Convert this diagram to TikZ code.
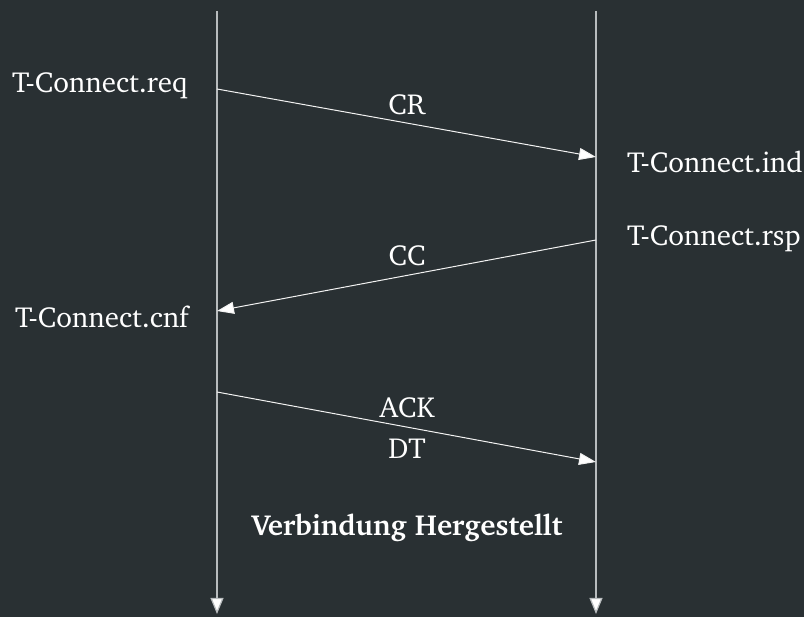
\documentclass[tikz,border=0pt]{standalone}
\usepackage[T1]{fontenc}
\usepackage{charter}
\usetikzlibrary{arrows.meta}
\definecolor{bg}{HTML}{293033}
\definecolor{lifeline}{HTML}{B8BCBE}
\definecolor{msg}{HTML}{F2F2F2}
\begin{document}
\begin{tikzpicture}[x=1pt,y=-1pt,
  txt/.style={text=white,font=\fontsize{29}{34}\selectfont,inner sep=0pt},
  lline/.style={draw=lifeline,line width=1.2pt,-{Triangle[length=16pt,width=13pt,fill=white]}},
  msgline/.style={draw=msg,line width=1pt,-{Triangle[length=17pt,width=12pt,fill=white]}}]
\fill[bg] (0,0) rectangle (804,617);
\useasboundingbox (0,0) rectangle (804,617);
% lifelines
\coordinate (atop) at (217,11);
\coordinate (abot) at (217,614);
\coordinate (btop) at (596,11);
\coordinate (bbot) at (596,614);
\draw[lline] (atop) -- (abot);
\draw[lline] (btop) -- (bbot);
% message endpoints
\coordinate (cr1) at (217,89);
\coordinate (cr2) at (596,157);
\coordinate (cc1) at (596,240);
\coordinate (cc2) at (217,311);
\coordinate (dt1) at (217,392);
\coordinate (dt2) at (596,462);
\draw[msgline] (cr1) -- (cr2);
\draw[msgline] (cc1) -- (cc2);
\draw[msgline] (dt1) -- (dt2);
% labels
\node[txt,anchor=base west] (req) at (12,93) {T-Connect.req};
\node[txt,anchor=base west] (ind) at (627,173) {T-Connect.ind};
\node[txt,anchor=base west] (rsp) at (627,246) {T-Connect.rsp};
\node[txt,anchor=base west] (cnf) at (15,328) {T-Connect.cnf};
\node[txt,anchor=base] (crl) at (407,115) {CR};
\node[txt,anchor=base] (ccl) at (407,266) {CC};
\node[txt,anchor=base] (ackl) at (407,418) {ACK};
\node[txt,anchor=base] (dtl) at (407,459) {DT};
\node[txt,anchor=base,font=\fontsize{29}{34}\selectfont\bfseries] (est) at (407,536) {Verbindung Hergestellt};
\end{tikzpicture}
\end{document}
